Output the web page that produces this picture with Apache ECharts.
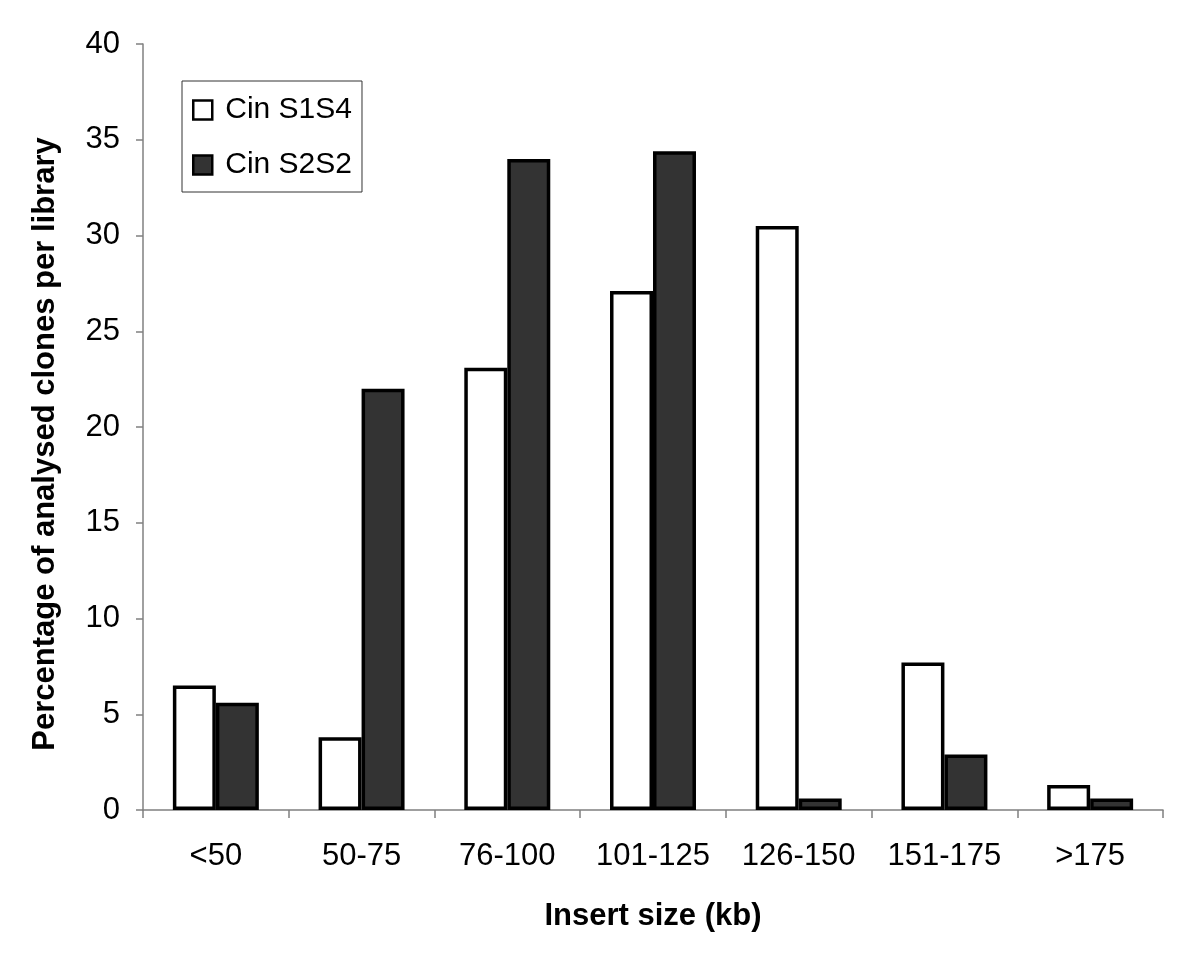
<!DOCTYPE html>
<html>
<head>
<meta charset="utf-8">
<script src="https://cdn.jsdelivr.net/npm/echarts@6/dist/echarts.min.js"></script>
<style>
html,body{margin:0;padding:0;background:#fff;}
#chart{width:1200px;height:959px;}
</style>
</head>
<body>
<div id="chart"></div>
<script>
var categories = ['<50', '50-75', '76-100', '101-125', '126-150', '151-175', '>175'];
var seriesNames = ['Cin S1S4', 'Cin S2S2'];
var s1s4 = [6.5, 3.8, 23.1, 27.1, 30.5, 7.7, 1.3];
var s2s2 = [5.6, 22.0, 34.0, 34.4, 0.6, 2.9, 0.6];
var yTicks = [0, 5, 10, 15, 20, 25, 30, 35, 40];

var FONT = '"Liberation Sans", Arial, sans-serif';
var chart = echarts.init(document.getElementById('chart'));
chart.setOption({
  animation: false,
  backgroundColor: '#fff',
  grid: { left: 143, right: 37, top: 44, bottom: 149 },
  legend: {
    orient: 'vertical',
    left: 182,
    top: 81,
    padding: [14, 10, 12, 10],
    itemGap: 25,
    itemWidth: 19,
    itemHeight: 19,
    borderColor: '#333',
    borderWidth: 1,
    icon: 'rect',
    textStyle: { fontFamily: FONT, fontSize: 30, color: '#000', lineHeight: 30, padding: [0, 0, 0, 8] },
    itemStyle: { borderColor: '#000', borderWidth: 2.5 },
    data: seriesNames
  },
  xAxis: {
    type: 'category',
    data: categories,
    name: 'Insert size (kb)',
    nameLocation: 'middle',
    nameGap: 91,
    nameTextStyle: { fontFamily: FONT, fontSize: 31, fontWeight: 'bold', color: '#000' },
    axisLine: { lineStyle: { color: '#808080', width: 1.5 } },
    axisTick: { show: true, length: 8, lineStyle: { color: '#808080', width: 1.5 } },
    axisLabel: { interval: 0, fontFamily: FONT, fontSize: 31, color: '#000', margin: 31 }
  },
  yAxis: {
    type: 'value',
    min: yTicks[0],
    max: yTicks[yTicks.length - 1],
    interval: 5,
    name: 'Percentage of analysed clones per library',
    nameLocation: 'middle',
    nameGap: 82,
    nameTextStyle: { fontFamily: FONT, fontSize: 31, fontWeight: 'bold', color: '#000', padding: [0, 34, 0, 0] },
    axisLine: { show: true, lineStyle: { color: '#808080', width: 1.5 } },
    axisTick: { show: true, length: 7, lineStyle: { color: '#808080', width: 1.5 } },
    splitLine: { show: false },
    axisLabel: { fontFamily: FONT, fontSize: 31, color: '#000', margin: 23 }
  },
  series: [
    {
      name: seriesNames[0],
      type: 'bar',
      data: s1s4,
      barGap: '0%',
      barCategoryGap: '41%',
      itemStyle: { color: '#ffffff', borderColor: '#000', borderWidth: 3.5 }
    },
    {
      name: seriesNames[1],
      type: 'bar',
      data: s2s2,
      barGap: '0%',
      barCategoryGap: '41%',
      itemStyle: { color: '#333333', borderColor: '#000', borderWidth: 3.5 }
    }
  ]
});
</script>
</body>
</html>
